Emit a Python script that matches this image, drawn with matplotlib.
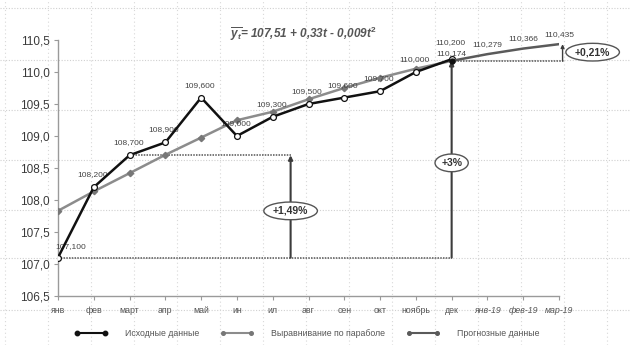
import matplotlib
matplotlib.use("Agg")
import matplotlib.pyplot as plt
from matplotlib.lines import Line2D

plt.rcParams['font.family'] = ['Liberation Sans Narrow', 'Liberation Sans', 'DejaVu Sans']
plt.rcParams['mathtext.fontset'] = 'custom'
plt.rcParams['mathtext.it'] = 'Liberation Sans:italic:bold'
plt.rcParams['mathtext.rm'] = 'Liberation Sans:bold'

# -----------------------------
# Data
# -----------------------------
months = ['янв', 'фев', 'март', 'апр', 'май', 'ин', 'ил', 'авг', 'сен', 'окт',
          'ноябрь', 'дек', 'янв-19', 'фев-19', 'мар-19']
actual = [107.1, 108.2, 108.7, 108.9, 109.6, 109.0, 109.3, 109.5, 109.6, 109.7,
          110.0, 110.2]
trend = [107.831, 108.134, 108.419, 108.706, 108.975, 109.246, 109.379, 109.574,
         109.751, 109.910, 110.051, 110.174]
forecast = [110.174, 110.279, 110.366, 110.435]
y_ticks = [106.5, 107.0, 107.5, 108.0, 108.5, 109.0, 109.5, 110.0, 110.5]
y_tick_labels = ['106,5', '107,0', '107,5', '108,0', '108,5', '109,0', '109,5', '110,0', '110,5']
growth_labels = ['+1,49%', '+3%', '+0,21%']

x_actual = list(range(len(actual)))
x_trend = list(range(len(trend)))
x_forecast = list(range(len(trend) - 1, len(trend) - 1 + len(forecast)))

BLACK = '#111111'
GRAY = '#8c8c8c'
DARK = '#5a5a5a'
TXT = '#444444'


def fmt(v):
    return f"{v:.3f}".replace('.', ',')


fig = plt.figure(figsize=(6.31, 3.45), dpi=100)

# sheet gridlines behind the chart
for yp in [8, 60, 110, 160, 210, 258, 310]:
    fig.add_artist(Line2D([0, 1], [1 - yp / 345, 1 - yp / 345], transform=fig.transFigure,
                          color='#d0d0d0', lw=0.8, ls=(0, (1, 1.5)), zorder=-5))
for xp in range(5, 631, 43):
    fig.add_artist(Line2D([xp / 631, xp / 631], [0, 1], transform=fig.transFigure,
                          color='#d8d8d8', lw=0.8, ls=(0, (1, 2.5)), zorder=-5))

ax = fig.add_axes([58 / 631, 1 - 296 / 345, (559 - 58) / 631, (296 - 40) / 345])
ax.patch.set_alpha(0)

# -----------------------------
# Lines
# -----------------------------
ax.plot(x_trend, trend, color=GRAY, lw=1.8, marker='D', ms=3.2, mfc='#777777',
        mec='#777777', zorder=3)
ax.plot(x_actual, actual, color=BLACK, lw=1.8, marker='o', ms=4.2, mfc='white',
        mec=BLACK, mew=0.9, zorder=4)
ax.plot(x_forecast, forecast, color=DARK, lw=1.8, marker='o', ms=3.5, mfc=BLACK,
        mec=BLACK, markevery=[0], zorder=5)

# value labels
for i, v in enumerate(actual):
    if i == 0:
        off = (9, 8)
    elif i == len(actual) - 1:
        off = (-1, 12)
    else:
        off = (-1, 9)
    ax.annotate(fmt(v), (i, v), xytext=off, textcoords='offset points',
                ha='center', va='center', fontsize=6, color=TXT)
for i, v in zip(x_forecast, forecast):
    off = (0, 5.5) if i == x_forecast[0] else (0, 7)
    ax.annotate(fmt(v), (i, v), xytext=off, textcoords='offset points',
                ha='center', va='center', fontsize=6, color=TXT,
                annotation_clip=False)

# -----------------------------
# Growth markers
# -----------------------------
dot = (0, (1, 0.8))
ax.plot([0, 11], [actual[0], actual[0]], color='#555555', lw=1.1, ls=dot, zorder=2)
ax.plot([2, 6.5], [actual[2], actual[2]], color='#555555', lw=1.1, ls=dot, zorder=2)
ax.plot([11, 14.15], [forecast[0], forecast[0]], color='#555555', lw=1.1, ls=dot,
        zorder=2, clip_on=False)

arrow = dict(arrowstyle='-|>', color='#3c3c3c', lw=1.5, mutation_scale=6,
             shrinkA=0, shrinkB=0)
ax.annotate('', xy=(6.5, actual[2]), xytext=(6.5, actual[0]), arrowprops=arrow)
ax.annotate('', xy=(11, forecast[0]), xytext=(11, actual[0]), arrowprops=arrow)
ax.annotate('', xy=(14.1, forecast[-1]), xytext=(14.1, forecast[0]),
            arrowprops=dict(arrow, lw=1.0, mutation_scale=5), annotation_clip=False)

oval = dict(boxstyle='ellipse,pad=0.12', fc='white', ec='#555555', lw=1.0)
ax.text(6.5, 107.83, growth_labels[0], ha='center', va='center', fontsize=7.5,
        fontweight='bold', color='#333333', bbox=oval, zorder=6)
ax.text(11, 108.58, growth_labels[1], ha='center', va='center', fontsize=7.5,
        fontweight='bold', color='#333333', bbox=oval, zorder=6)
ax.text(14.94, 110.31, growth_labels[2], ha='center', va='center', fontsize=7.5,
        fontweight='bold', color='#333333', bbox=oval, zorder=6, clip_on=False)

# trend equation
fig.text(230 / 631, 1 - 33 / 345, r'$\overline{y_t}$= 107,51 + 0,33t - 0,009t$^2$',
         fontsize=8.5, fontweight='bold', style='italic', color='#555555',
         family='Liberation Sans', va='center', ha='left')

# -----------------------------
# Axes styling
# -----------------------------
ax.set_xlim(0, 14)
ax.set_ylim(106.5, 110.5)
ax.set_yticks(y_ticks)
ax.set_yticklabels(y_tick_labels, fontsize=8.5, color='#3a3a3a', family='Liberation Sans')
ax.set_xticks(range(len(months)))
ax.set_xticklabels(months, fontsize=6.3, color='#555555')
for lbl in ax.get_xticklabels()[12:]:
    lbl.set_style('italic')
for s in ['top', 'right']:
    ax.spines[s].set_visible(False)
for s in ['left', 'bottom']:
    ax.spines[s].set_color('#9a9a9a')
    ax.spines[s].set_linewidth(1.0)
ax.tick_params(axis='both', direction='out', length=3, color='#9a9a9a', width=0.8)
ax.tick_params(axis='x', pad=4)
ax.tick_params(axis='y', pad=3)

# legend
handles = [
    Line2D([], [], color=BLACK, lw=1.5, marker='o', ms=3.2, mfc=BLACK, mec=BLACK),
    Line2D([], [], color=GRAY, lw=1.5, marker='o', ms=2.6, mfc='#777777', mec='#777777'),
    Line2D([], [], color=DARK, lw=1.5, marker='o', ms=2.6, mfc=DARK, mec=DARK),
]
names = ['Исходные данные', 'Выравнивание по параболе', 'Прогнозные данные']
leg = fig.legend(handles, names, loc='center', bbox_to_anchor=(307 / 631, 1 - 334 / 345),
                 ncol=3, frameon=False, fontsize=6.3, numpoints=2, handlelength=3.8,
                 handletextpad=2.0, columnspacing=2.4)
for t in leg.get_texts():
    t.set_color('#555555')

fig.savefig('out.png', dpi=100)
